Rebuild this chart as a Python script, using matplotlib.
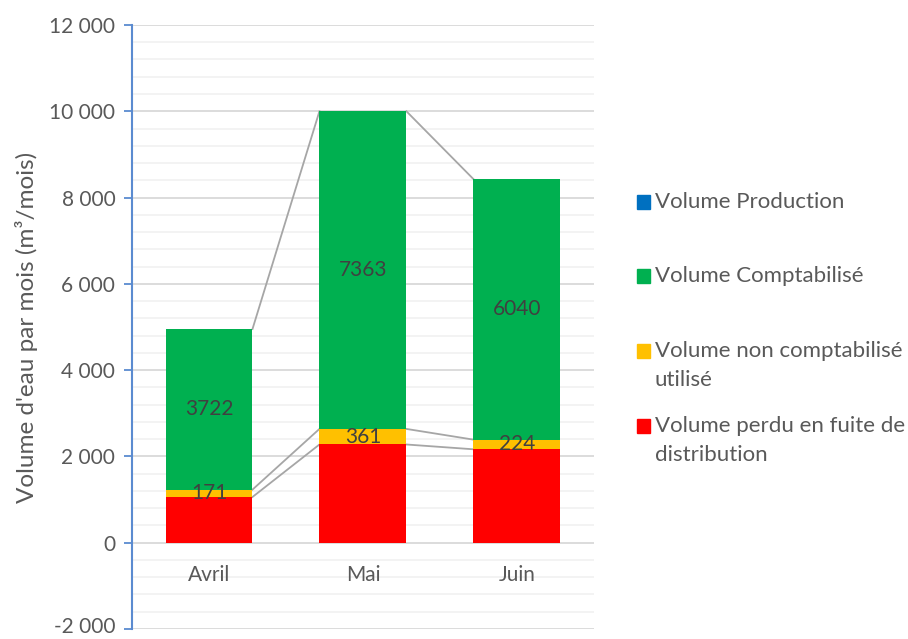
import numpy as np
import matplotlib.pyplot as plt
from matplotlib.patches import Rectangle
from matplotlib.transforms import ScaledTranslation

plt.rcParams['font.family'] = ['Lato', 'DejaVu Sans']

# data (m3 / month)
months = ['Avril', 'Mai', 'Juin']
perdu = [1059, 2276, 2165]          # volume perdu en fuite de distribution
non_compta = [171, 361, 224]        # volume non comptabilise utilise
compta = [3722, 7363, 6040]         # volume comptabilise

series_names = [['Volume Production'], ['Volume Comptabilisé'],
                ['Volume non comptabilisé', 'utilisé'],
                ['Volume perdu en fuite de', 'distribution']]
series_colors = ['#0070C0', '#00B050', '#FFC000', '#FF0000']

text_col = '#595959'
label_col = '#404040'


def fmt(v):
    s = format(abs(v), ',d').replace(',', ' ')
    return ('-' if v < 0 else '') + s


fig = plt.figure(figsize=(9.08, 6.39), dpi=100)
ax = fig.add_axes([0.1454, 0.0157, 0.654 - 0.1454, 0.9609 - 0.0157])

x = np.arange(len(months))
w = 0.565
stack = [(perdu, '#FF0000'), (non_compta, '#FFC000'), (compta, '#00B050')]
bottom = np.zeros(len(months))
for vals, col in stack:
    vals = np.array(vals, dtype=float)
    ax.bar(x, vals, w, bottom=bottom, color=col, zorder=3)
    top = bottom + vals
    # series lines between neighbouring bars
    for i in range(len(months) - 1):
        ax.plot([x[i] + w / 2, x[i + 1] - w / 2], [top[i], top[i + 1]],
                color='#A6A6A6', lw=1.3, zorder=2)
    if col != '#FF0000':
        for i in range(len(months)):
            ax.text(x[i], bottom[i] + vals[i] / 2, '%d' % vals[i],
                    ha='center', va='center', fontsize=15, color=label_col,
                    zorder=4)
    bottom = top

ax.set_xlim(-0.5, 2.5)
ax.set_ylim(-2000, 12000)
yt = np.arange(-2000, 12001, 2000)
ax.set_yticks(yt)
ax.set_yticklabels([fmt(v) for v in yt])
ax.set_yticks(np.arange(-2000, 12001, 400), minor=True)
ax.yaxis.grid(True, which='major', color='#D9D9D9', lw=1.3, zorder=0)
ax.yaxis.grid(True, which='minor', color='#F2F2F2', lw=1.3, zorder=0)
ax.tick_params(axis='y', which='major', length=6, width=1.3, color='#5B8BD0',
               labelsize=15, labelcolor=text_col, pad=6)
ax.tick_params(axis='y', which='minor', length=0)

# lift the lowest label a touch so it is not clipped by the figure edge
low = ax.get_yticklabels()[0]
low.set_transform(low.get_transform() + ScaledTranslation(0, 3 / 72, fig.dpi_scale_trans))

# category labels sit just under the zero line
ax.set_xticks([])
for i, m in enumerate(months):
    ax.text(x[i], -760, m, ha='center', va='center', fontsize=15,
            color=text_col, zorder=5)

for s in ['top', 'right', 'bottom']:
    ax.spines[s].set_visible(False)
ax.spines['left'].set_color('#5B8BD0')
ax.spines['left'].set_linewidth(1.5)

ax.set_ylabel("Volume d'eau par mois (m³/mois)", fontsize=17.5, color=text_col,
              labelpad=8)

# legend, laid out like the spreadsheet one
W, H = 908, 639
leg_rows = [202, 276, 351, 426]
line_h = 29
for lines, col, yc in zip(series_names, series_colors, leg_rows):
    fig.add_artist(Rectangle((637 / W, 1 - (yc + 7) / H), 13 / W, 14 / H,
                             transform=fig.transFigure, color=col))
    for k, txt in enumerate(lines):
        fig.text(655 / W, 1 - (yc + k * line_h) / H, txt, ha='left',
                 va='center', fontsize=16, color=text_col)

fig.savefig('out.png', dpi=100)
